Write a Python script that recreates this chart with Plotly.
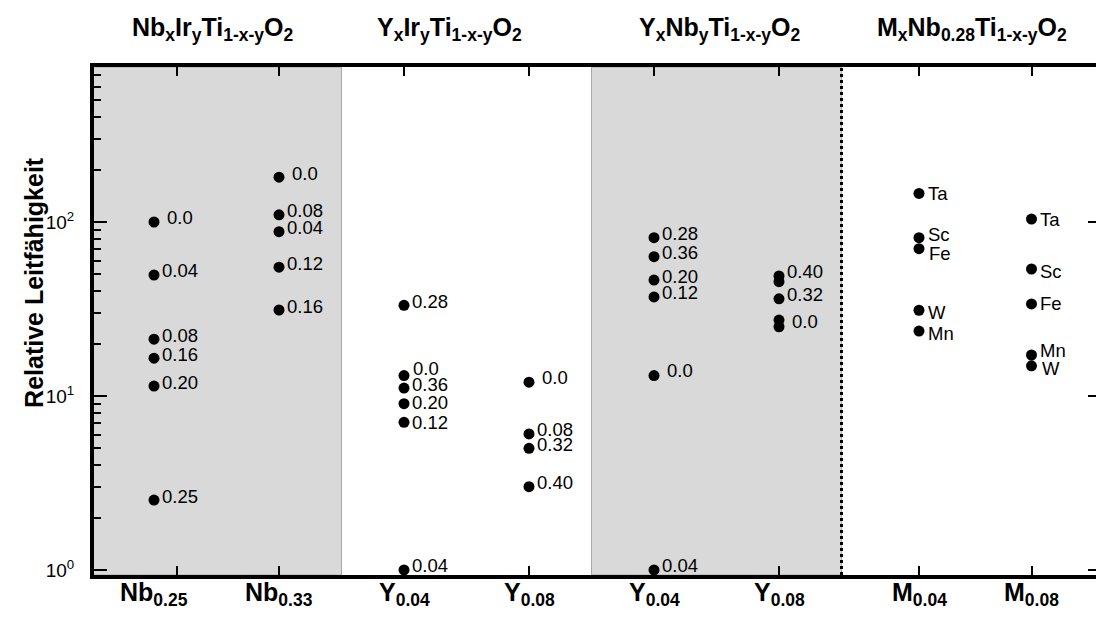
import math
import plotly.graph_objects as go

FONT = "Liberation Sans, Arial, Helvetica, sans-serif"

# Composition families shown along the top
group_titles = [
    "Nb<sub>x</sub>Ir<sub>y</sub>Ti<sub>1-x-y</sub>O<sub>2</sub>",
    "Y<sub>x</sub>Ir<sub>y</sub>Ti<sub>1-x-y</sub>O<sub>2</sub>",
    "Y<sub>x</sub>Nb<sub>y</sub>Ti<sub>1-x-y</sub>O<sub>2</sub>",
    "M<sub>x</sub>Nb<sub>0.28</sub>Ti<sub>1-x-y</sub>O<sub>2</sub>",
]
group_centres = [1.47, 3.36, 5.53, 7.54]

# Column categories (fixed dopant fraction x)
column_labels = [
    "Nb<sub>0.25</sub>", "Nb<sub>0.33</sub>",
    "Y<sub>0.04</sub>", "Y<sub>0.08</sub>",
    "Y<sub>0.04</sub>", "Y<sub>0.08</sub>",
    "M<sub>0.04</sub>", "M<sub>0.08</sub>",
]
column_pos = [1, 2, 3, 4, 5, 6, 7.12, 8.02]
tick_pos = [1.184, 2, 3, 4, 5, 6, 7.12, 8.02]

# Relative conductivity per column, with the y fraction / metal M of each point
nb025_vals = [100, 49.6, 21.2, 16.5, 11.4, 2.52]
nb025_tags = ["0.0", "0.04", "0.08", "0.16", "0.20", "0.25"]

nb033_vals = [181, 110, 88, 55, 31.2]
nb033_tags = ["0.0", "0.08", "0.04", "0.12", "0.16"]

y004_ir_vals = [33.2, 13.1, 11.1, 9.03, 7.06, 1.0]
y004_ir_tags = ["0.28", "0.0", "0.36", "0.20", "0.12", "0.04"]

y008_ir_vals = [12.0, 6.05, 5.0, 3.01]
y008_ir_tags = ["0.0", "0.08", "0.32", "0.40"]

y004_nb_vals = [81.3, 63.2, 46.4, 37.1, 13.1, 1.0]
y004_nb_tags = ["0.28", "0.36", "0.20", "0.12", "0.0", "0.04"]

y008_nb_vals = [49.0, 45.4, 36.2, 27.3, 25.0]
y008_nb_tags = ["0.40", "", "0.32", "", "0.0"]

m004_vals = [146, 81.3, 70.3, 31.1, 23.6]
m004_tags = ["Ta", "Sc", "Fe", "W", "Mn"]

m008_vals = [104, 53.7, 33.8, 17.2, 14.9]
m008_tags = ["Ta", "Sc", "Fe", "Mn", "W"]

column_vals = [nb025_vals, nb033_vals, y004_ir_vals, y008_ir_vals,
               y004_nb_vals, y008_nb_vals, m004_vals, m008_vals]
column_tags = [nb025_tags, nb033_tags, y004_ir_tags, y008_ir_tags,
               y004_nb_tags, y008_nb_tags, m004_tags, m008_tags]

y_ticks = [1, 10, 100]
y_ticktext = ["10<sup>0</sup>", "10<sup>1</sup>", "10<sup>2</sup>"]

# Label placement tweaks (pixel offsets of the text from its dot)
DEFAULT_NUDGE = (9, 4)
label_nudge = {
    (0, "0.0"): (14, 5), (1, "0.0"): (14, 4),
    (2, "0.0"): (10, 7), (2, "0.20"): (9, 1), (2, "0.12"): (9, 0),
    (3, "0.0"): (14, 5), (4, "0.0"): (14, 5), (5, "0.0"): (14, 5),
    (6, "Ta"): (10, 0), (6, "Sc"): (10, 3), (6, "Fe"): (11, -5),
    (6, "W"): (10, -2), (6, "Mn"): (10, -2),
    (7, "Ta"): (9, 0), (7, "Sc"): (9, -3), (7, "Fe"): (9, 0),
    (7, "Mn"): (9, 5), (7, "W"): (11, -3),
}

xs, ys = [], []
for pos, vals in zip(column_pos, column_vals):
    xs += [pos] * len(vals)
    ys += vals

fig = go.Figure()
fig.add_trace(go.Scatter(
    x=xs, y=ys, mode="markers",
    marker=dict(size=11, color="black"),
    hoverinfo="skip", showlegend=False,
))
# companion trace carrying the right-hand tick axis
fig.add_trace(go.Scatter(x=[None], y=[None], yaxis="y2", showlegend=False,
                         hoverinfo="skip"))

annotations = []
for ci, (pos, vals, tags) in enumerate(zip(column_pos, column_vals, column_tags)):
    for v, t in zip(vals, tags):
        if not t:
            continue
        dx, dy = label_nudge.get((ci, t), DEFAULT_NUDGE)
        annotations.append(dict(
            # annotation coordinates on a log axis are given in decades
            x=pos, y=math.log10(v), xref="x", yref="y", text=t, showarrow=False,
            xanchor="left", yanchor="middle", xshift=dx - 3, yshift=dy,
            font=dict(family=FONT, size=18.5, color="black"),
        ))

for pos, lab in zip(column_pos, column_labels):
    annotations.append(dict(
        x=pos, y=0, xref="x", yref="paper", text=f"<b>{lab}</b>",
        showarrow=False, xanchor="center", yanchor="top", yshift=-1,
        font=dict(family=FONT, size=25, color="black"),
    ))

for pos, title in zip(group_centres, group_titles):
    annotations.append(dict(
        x=pos, y=1, xref="x", yref="paper", text=f"<b>{title}</b>",
        showarrow=False, xanchor="center", yanchor="bottom", yshift=20,
        font=dict(family=FONT, size=25, color="black"),
    ))

annotations.append(dict(
    x=0, y=0.575, xref="paper", yref="paper",
    text="<b>Relative Leitfähigkeit</b>", textangle=-90,
    showarrow=False, xanchor="center", yanchor="middle", xshift=-60,
    font=dict(family=FONT, size=25, color="black"),
))

shapes = [
    dict(type="rect", xref="x", yref="paper", x0=0.3, x1=2.5, y0=0, y1=1,
         fillcolor="#d9d9d9", line=dict(color="#a8a8a8", width=1), layer="below"),
    dict(type="rect", xref="x", yref="paper", x0=4.5, x1=6.5, y0=0, y1=1,
         fillcolor="#d9d9d9", line=dict(color="#a8a8a8", width=1), layer="below"),
    dict(type="line", xref="x", yref="paper", x0=6.5, x1=6.5, y0=0, y1=1,
         line=dict(color="black", width=3, dash="dot"), layer="below"),
]

fig.update_layout(
    width=1096, height=617,
    margin=dict(l=94, r=0, t=67, b=42),
    paper_bgcolor="white", plot_bgcolor="white",
    font=dict(family=FONT, color="black"),
    xaxis=dict(
        range=[0.52, 8.536], tickvals=tick_pos, ticktext=[""] * len(tick_pos),
        ticks="inside", ticklen=9, tickwidth=2, tickcolor="black",
        showline=True, linewidth=4, linecolor="black", mirror="ticks",
        showgrid=False, zeroline=False, fixedrange=True,
    ),
    yaxis=dict(
        type="log", range=[-0.029, 2.891],
        tickvals=y_ticks, ticktext=y_ticktext,
        ticks="inside", ticklen=13, tickwidth=2, tickcolor="black",
        tickfont=dict(family=FONT, size=19, color="black"),
        ticklabelstandoff=12,
        minor=dict(ticks="inside", ticklen=7, tickwidth=2, tickcolor="black",
                   dtick="D1", showgrid=False),
        showline=True, linewidth=4, linecolor="black", mirror=False,
        showgrid=False, zeroline=False, fixedrange=True,
    ),
    yaxis2=dict(
        type="log", range=[-0.029, 2.891], overlaying="y", side="right",
        tickvals=y_ticks, showticklabels=False,
        ticks="inside", ticklen=8, tickwidth=2, tickcolor="black",
        showline=False, showgrid=False, zeroline=False, fixedrange=True,
    ),
    shapes=shapes,
    annotations=annotations,
)

fig.write_html("out.html")
